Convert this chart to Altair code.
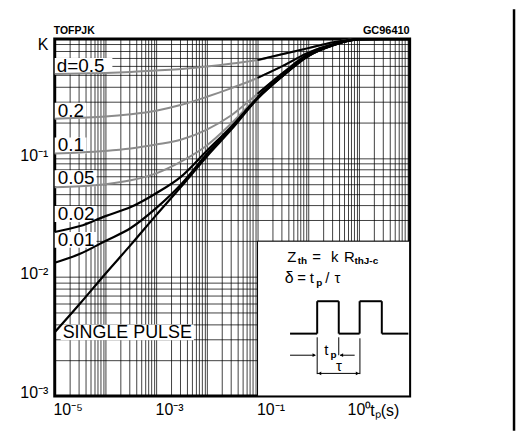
import altair as alt
import pandas as pd

FONT = "Liberation Sans"

# ---- data (tp in s, K normalised thermal impedance) ----
tp = [1e-6, 3.16e-6, 1e-5, 3.16e-5, 1e-4, 3.16e-4, 1e-3, 3.16e-3, 1e-2, 3.16e-2, 0.1, 0.316, 1.0, 3.16, 10.0]
k_single = [0.00343, 0.00598, 0.01066, 0.01862, 0.0331, 0.0579, 0.1031, 0.1767, 0.3147, 0.490, 0.720, 0.889, 1.0, 1.0, 1.0]
k_d001 = [0.01317, 0.01566, 0.0201, 0.0258, 0.0379, 0.0605, 0.108, 0.182, 0.318, 0.492, 0.721, 0.890, 1.0, 1.0, 1.0]
k_d002 = [0.0239, 0.0268, 0.0325, 0.0387, 0.0506, 0.0702, 0.1150, 0.1870, 0.321, 0.495, 0.723, 0.892, 1.0, 1.0, 1.0]
k_d005 = [0.0568, 0.0579, 0.0602, 0.0650, 0.0743, 0.0937, 0.1274, 0.1984, 0.327, 0.500, 0.730, 0.895, 1.0, 1.0, 1.0]
k_d01 = [0.1093, 0.1114, 0.1147, 0.1203, 0.1299, 0.1430, 0.1734, 0.2313, 0.3465, 0.520, 0.750, 0.900, 0.99, 1.0, 1.0]
k_d02 = [0.214, 0.218, 0.223, 0.2335, 0.250, 0.280, 0.327, 0.389, 0.471, 0.594, 0.770, 0.910, 0.99, 1.0, 1.0]
k_d05 = [0.509, 0.514, 0.519, 0.529, 0.545, 0.561, 0.588, 0.623, 0.666, 0.748, 0.839, 0.942, 1.0, 1.0, 1.0]

curves = [
    ("d=0.5", k_d05, "gray"),
    ("0.2", k_d02, "gray"),
    ("0.1", k_d01, "gray"),
    ("0.05", k_d005, "gray"),
    ("0.02", k_d002, "black"),
    ("0.01", k_d001, "black"),
    ("SINGLE PULSE", k_single, "black"),
]

rows = []
for name, ks, tone in curves:
    for t, k in zip(tp, ks):
        rows.append({"tp": t, "k": k, "curve": name, "tone": tone})
df = pd.DataFrame(rows)
df_gray = df[df.tone == "gray"]
df_black = df[df.tone == "black"]

inset = pd.DataFrame([{"tp": 1e-2, "tp2": 10.0, "k": 1e-3, "k2": 0.02}])

x_grid = [float(f"{m}e{n}") for n in range(-6, 1) for m in range(1, 10)] + [10.0]
y_grid = [float(f"{m}e{n}") for n in range(-3, 0) for m in range(1, 10)] + [1.0]

xscale = alt.Scale(type="log", domain=[1e-6, 10], nice=False)
yscale = alt.Scale(type="log", domain=[1e-3, 1], nice=False)

x_axis = alt.Axis(
    values=x_grid, grid=True, gridColor="black", gridOpacity=0.75, gridWidth=1,
    ticks=False, domain=False,
    labelExpr="datum.value == 1e-5 ? '10⁻⁵' : datum.value == 0.001 ? '10⁻³' : datum.value == 0.1 ? '10⁻¹' : datum.value == 1 ? '10⁰' : ''",
    labelOffset={"condition": {"test": "datum.value < 0.5", "value": -38}, "value": 0},
    labelFont=FONT, labelFontSize=16, labelColor="black", labelPadding=6,
    labelOverlap=False, labelFlush=False, labelBound=False,
    title="tₚ(s)", titleFont=FONT, titleFontSize=16, titleFontWeight="normal",
    titleColor="black", titleX=317, titleY=15, titleAlign="left", titleBaseline="middle",
)
y_axis = alt.Axis(
    values=y_grid, grid=True, gridColor="black", gridOpacity=0.75, gridWidth=1,
    ticks=False, domain=False,
    labelExpr="datum.value == 1 ? 'K' : datum.value == 0.1 ? '10⁻¹' : datum.value == 0.01 ? '10⁻²' : datum.value == 0.001 ? '10⁻³' : ''",
    labelOffset={"condition": {"test": "datum.value == 1", "value": 5}, "value": -3},
    labelFont=FONT, labelFontSize=16, labelColor="black", labelPadding=7,
    labelOverlap=False, labelFlush=False, labelBound=False, title=None,
)

X = alt.X("tp:Q", scale=xscale, axis=x_axis, title="tₚ(s)")
Y = alt.Y("k:Q", scale=yscale, axis=y_axis, title=None)

one = alt.Data(values=[{"a": 1}])

layers = []
# inset panel (white box over the grid)
layers.append(
    alt.Chart(inset).mark_rect(fill="white", stroke="black", strokeWidth=1).encode(
        x=X, x2="tp2:Q", y=Y, y2="k2:Q"
    )
)

# white boxes behind curve labels
boxes = [(0, 58, 19, 35), (0, 32, 64, 80), (0, 32, 99, 115), (0, 42, 132, 148),
         (0, 42, 168, 184), (0, 42, 194, 210), (6, 140, 287, 303)]
for x0, x1, y0, y1 in boxes:
    layers.append(alt.Chart(one).mark_rect(color="white").encode(
        x=alt.value(x0), x2=alt.value(x1), y=alt.value(y0), y2=alt.value(y1)))

# curves
layers.append(alt.Chart(df_gray).mark_line(color="#8c8c8c", strokeWidth=2, interpolate="monotone").encode(
    x=X, y=Y, detail="curve:N"))
layers.append(alt.Chart(df_gray).transform_filter("datum.tp >= 0.0099").mark_line(
    color="black", strokeWidth=2, interpolate="monotone").encode(x=X, y=Y, detail="curve:N"))
layers.append(alt.Chart(df_black).mark_line(color="black", strokeWidth=2.2, interpolate="monotone").encode(
    x=X, y=Y, detail="curve:N"))


def txt(text, x, y, size=16, align="left", baseline="middle", weight="normal"):
    return alt.Chart(one).mark_text(
        text=text, align=align, baseline=baseline, fontSize=size, fontWeight=weight,
        font=FONT, color="black").encode(x=alt.value(x), y=alt.value(y))


# curve labels
for text, x, y, s in [("d=0.5", 2, 27, 19), ("0.2", 3, 72, 19), ("0.1", 3, 107, 19), ("0.05", 3, 140, 19),
                      ("0.02", 3, 176, 19), ("0.01", 3, 202, 19), ("SINGLE PULSE", 8, 296, 18)]:
    layers.append(txt(text, x, y, size=s))

# header texts
layers.append(txt("TOFPJK", -1, -8, size=10.5, weight="bold"))
layers.append(txt("GC96410", 357, -8, size=11, align="right", weight="bold"))

# inset formulas
layers.append(txt("Z", 234, 224, size=15, baseline="alphabetic"))
layers.append(txt("th", 244.5, 226, size=10, baseline="alphabetic", weight="bold"))
layers.append(txt("=", 259, 224, size=15, baseline="alphabetic"))
layers.append(txt("k", 278, 224, size=15, baseline="alphabetic"))
layers.append(txt("R", 291, 224, size=15, baseline="alphabetic"))
layers.append(txt("thJ-c", 301.5, 226, size=10, baseline="alphabetic", weight="bold"))
layers.append(txt("δ", 231.5, 245, size=16, baseline="alphabetic"))
layers.append(txt("=", 244, 245, size=15, baseline="alphabetic"))
layers.append(txt("t", 256.5, 245, size=15, baseline="alphabetic"))
layers.append(txt("p", 263, 248, size=10, baseline="alphabetic", weight="bold"))
layers.append(txt("/", 272, 245, size=15, baseline="alphabetic"))
layers.append(txt("τ", 281.5, 245, size=15, baseline="alphabetic"))
layers.append(txt("t", 271, 318, size=15, baseline="alphabetic"))
layers.append(txt("p", 277.5, 321, size=10, baseline="alphabetic", weight="bold"))
layers.append(txt("τ", 286, 334, size=15, align="center", baseline="alphabetic"))

# pulse schematic
segs = [
    (236.7, 264, 296.3, 296.3, 2), (264, 264, 296.3, 263.7, 2), (264, 285.7, 263.7, 263.7, 2),
    (285.7, 285.7, 263.7, 296.3, 2), (285.7, 306.7, 296.3, 296.3, 2), (306.7, 306.7, 296.3, 263.7, 2),
    (306.7, 329, 263.7, 263.7, 2), (329, 329, 263.7, 296.3, 2), (329, 355.7, 296.3, 296.3, 2),
    (236.7, 262, 318, 318, 1), (264, 264, 300, 337, 1), (285.7, 285.7, 300, 318, 1),
    (287, 301.7, 318, 318, 1), (307, 307, 301, 337, 1), (264, 307, 336.3, 336.3, 1),
]
for x0, x1, y0, y1, w in segs:
    layers.append(alt.Chart(one).mark_rule(color="black", strokeWidth=w).encode(
        x=alt.value(x0), x2=alt.value(x1), y=alt.value(y0), y2=alt.value(y1)))
for x, y, shape in [(261, 318, "triangle-right"), (288.5, 318, "triangle-left"),
                    (266.5, 336.3, "triangle-left"), (304.5, 336.3, "triangle-right")]:
    layers.append(alt.Chart(one).mark_point(shape=shape, filled=True, size=14, color="black", opacity=1).encode(
        x=alt.value(x), y=alt.value(y)))

# outer frame line at the right of the picture
layers.append(alt.Chart(one).mark_rule(color="black", strokeWidth=2.5).encode(
    x=alt.value(462), x2=alt.value(462), y=alt.value(-30), y2=alt.value(394)))

chart = alt.layer(*layers).properties(
    width=357, height=359,
    padding={"left": 47, "top": 30, "right": 110, "bottom": 35},
    autosize=alt.AutoSizeParams(type="none"),
    background="white",
).configure_view(stroke="black", strokeWidth=3)

chart.save("out.html", embed_options={"renderer": "svg", "actions": False})
